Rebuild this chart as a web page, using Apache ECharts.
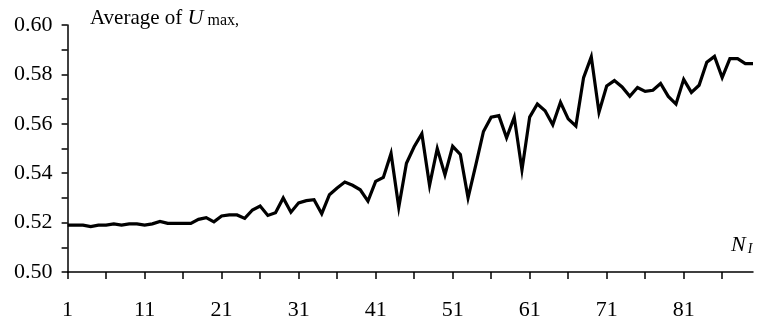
<!DOCTYPE html>
<html>
<head>
<meta charset="utf-8">
<script src="https://cdn.jsdelivr.net/npm/echarts@6/dist/echarts.min.js"></script>
<style>
html,body{margin:0;padding:0;background:#fff;}
#c{width:758px;height:321px;}
</style>
</head>
<body>
<div id="c"></div>
<script>
// x categories: N_I = 1..90
const categories = [];
for (let i = 1; i <= 90; i++) categories.push(String(i));

// Average of U_max for each N_I
const values = [
  0.519, 0.519, 0.519, 0.5184, 0.519, 0.519, 0.5195, 0.519, 0.5195, 0.5195,
  0.519, 0.5195, 0.5205, 0.5197, 0.5197, 0.5197, 0.5197, 0.5213, 0.522, 0.5203,
  0.5227, 0.5231, 0.5231, 0.5217, 0.5251, 0.5267, 0.5229, 0.524, 0.530, 0.5242,
  0.528, 0.5289, 0.5293, 0.5236, 0.5313, 0.534, 0.5364, 0.5351, 0.5333, 0.5287,
  0.5367, 0.5383, 0.548, 0.5262, 0.544, 0.5507, 0.556, 0.5351, 0.550, 0.5393,
  0.5509, 0.5476, 0.530, 0.5433, 0.5569, 0.5627, 0.5633, 0.5543, 0.5627, 0.5413,
  0.5627, 0.568, 0.5653, 0.5596, 0.5687, 0.562, 0.5591, 0.5787, 0.5871, 0.5647,
  0.5753, 0.5775, 0.5749, 0.5711, 0.5747, 0.5731, 0.5736, 0.5763, 0.5711, 0.568,
  0.578, 0.5727, 0.5756, 0.5849, 0.5873, 0.5787, 0.5864, 0.5864, 0.5844, 0.5844
];

const yMin = 0.50, yMax = 0.60, yStep = 0.02;

const FONT = '"Liberation Serif", "Times New Roman", serif';
const chart = echarts.init(document.getElementById('c'), null, {renderer: 'canvas'});
chart.setOption({
  animation: false,
  backgroundColor: '#fff',
  title: {
    left: 90, top: 7, padding: 0,
    text: '{a|Average of }{u|U}{m| max,}',
    textStyle: {
      fontWeight: 'normal',
      rich: {
        a: {fontFamily: FONT, fontSize: 21, fontWeight: 'normal', color: '#000'},
        u: {fontFamily: FONT, fontSize: 22, fontWeight: 'normal', fontStyle: 'italic', color: '#000'},
        m: {fontFamily: FONT, fontSize: 16, fontWeight: 'normal', color: '#000', padding: [6, 0, 0, 0]}
      }
    }
  },
  graphic: [{
    type: 'text',
    left: 731, top: 234,
    style: {
      text: '{n|N}{i|I}',
      rich: {
        n: {fontFamily: FONT, fontSize: 22, fontStyle: 'italic', fill: '#000'},
        i: {fontFamily: FONT, fontSize: 14, fontStyle: 'italic', fill: '#000', padding: [8, 0, 0, 2]}
      }
    }
  }],
  grid: {left: 67.6, right: 5, top: 25, bottom: 46, containLabel: false},
  xAxis: {
    type: 'category',
    data: categories,
    boundaryGap: false,
    axisLine: {onZero: false, lineStyle: {color: '#000', width: 1.5}},
    axisTick: {show: true, interval: 4, length: 7, inside: false, lineStyle: {color: '#000', width: 1.5}},
    axisLabel: {interval: 9, margin: 27, fontFamily: FONT, fontSize: 22, color: '#000'},
    splitLine: {show: false}
  },
  yAxis: {
    type: 'value',
    min: yMin, max: yMax, interval: yStep,
    axisLine: {show: true, lineStyle: {color: '#000', width: 1.5}},
    axisTick: {show: true, length: 6, lineStyle: {color: '#000', width: 1.5}},
    minorTick: {show: true, splitNumber: 2, length: 6, lineStyle: {color: '#000', width: 1.5}},
    axisLabel: {margin: 15, fontFamily: FONT, fontSize: 22, color: '#000', formatter: v => v.toFixed(2)},
    splitLine: {show: false}
  },
  series: [{
    type: 'line',
    data: values,
    showSymbol: false,
    symbol: 'none',
    lineStyle: {color: '#000', width: 3.2, join: 'miter'}
  }]
});
</script>
</body>
</html>
